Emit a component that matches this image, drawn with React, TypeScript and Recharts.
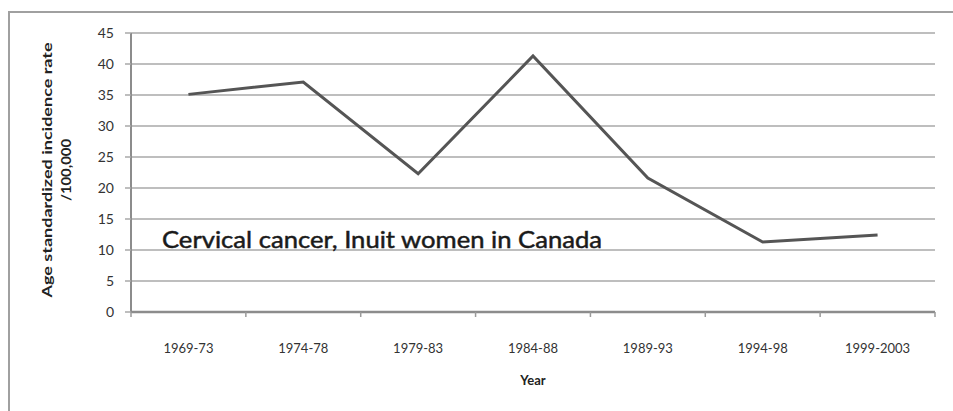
import { LineChart, Line, XAxis, YAxis, CartesianGrid } from "recharts";

const periods = ["1969-73", "1974-78", "1979-83", "1984-88", "1989-93", "1994-98", "1999-2003"];
const rates = [35.1, 37.1, 22.3, 41.3, 21.6, 11.3, 12.4];
const yTicks = [0, 5, 10, 15, 20, 25, 30, 35, 40, 45];

// each category sits in the middle of its slot, tick marks go on the slot edges
const data = periods.map((p, i) => ({ period: p, pos: i + 0.5, rate: rates[i] }));
const xTicks: number[] = [];
for (let i = 0; i <= periods.length * 2; i++) xTicks.push(i / 2);

const font = "Lato, 'Open Sans', sans-serif";

const XTick = (props: any) => {
  const { x, y, payload } = props;
  const v = payload.value;
  if (Number.isInteger(v)) {
    return <line x1={x} x2={x} y1={y} y2={y + 5} stroke="#9a9a9a" strokeWidth={1.5} />;
  }
  return (
    <text x={x} y={y + 41} textAnchor="middle" fontSize={13} fill="#333" fontFamily={font}>
      {periods[Math.floor(v)]}
    </text>
  );
};

const YTitle = () => (
  <g fontFamily={font} fontSize={14} fontWeight="bold" fill="#222">
    <text x={52} y={170} transform="rotate(-90 52 170)" textAnchor="middle" textLength={255} lengthAdjust="spacingAndGlyphs">
      Age standardized incidence rate
    </text>
    <text x={71} y={170} transform="rotate(-90 71 170)" textAnchor="middle" textLength={62} lengthAdjust="spacingAndGlyphs">
      /100,000
    </text>
  </g>
);

const App = () => {
  return (
    <div style={{ position: "relative", width: 953, height: 411, overflow: "hidden", background: "#fff" }}>
      <style>{`body{margin:0}`}</style>
      <div
        style={{
          position: "absolute",
          left: 8,
          top: 11,
          width: 960,
          height: 420,
          borderTop: "2px solid #a0a0a0",
          borderLeft: "2px solid #a0a0a0",
        }}
      />
      <div style={{ position: "absolute", left: 0, top: 0 }}>
        <LineChart width={953} height={411} data={data} margin={{ top: 33, right: 18, left: 71, bottom: 69 }}>
          <CartesianGrid vertical={false} stroke="#a8a8a8" strokeWidth={1.5} />
          <XAxis
            type="number"
            dataKey="pos"
            domain={[0, periods.length]}
            ticks={xTicks}
            interval={0}
            tickLine={false}
            tickSize={0}
            tickMargin={0}
            tick={<XTick />}
            axisLine={{ stroke: "#8c8c8c", strokeWidth: 2.5 }}
            height={30}
            label={{ value: "Year", position: "insideBottom", offset: -43, fontFamily: font, fontSize: 13, fontWeight: "bold", fill: "#222" }}
          />
          <YAxis
            type="number"
            domain={[0, 45]}
            ticks={yTicks}
            interval={0}
            width={60}
            tickSize={6}
            tickMargin={11}
            tickLine={{ stroke: "#a8a8a8", strokeWidth: 1.5 }}
            axisLine={{ stroke: "#8c8c8c", strokeWidth: 2 }}
            tick={{ fontSize: 14, fill: "#333", fontFamily: font }}
            label={{ content: <YTitle /> }}
          />
          <Line
            type="linear"
            dataKey="rate"
            stroke="#555"
            strokeWidth={3}
            dot={false}
            isAnimationActive={false}
          />
        </LineChart>
      </div>
      <svg style={{ position: "absolute", left: 0, top: 0 }} width={953} height={411}>
        <text
          x={162}
          y={248}
          fontFamily={font}
          fontSize={24}
          fill="#1a1a1a"
          stroke="#1a1a1a"
          strokeWidth={0.5}
          textLength={440}
          lengthAdjust="spacingAndGlyphs"
        >
          Cervical cancer, Inuit women in Canada
        </text>
      </svg>
    </div>
  );
};

export default App;
